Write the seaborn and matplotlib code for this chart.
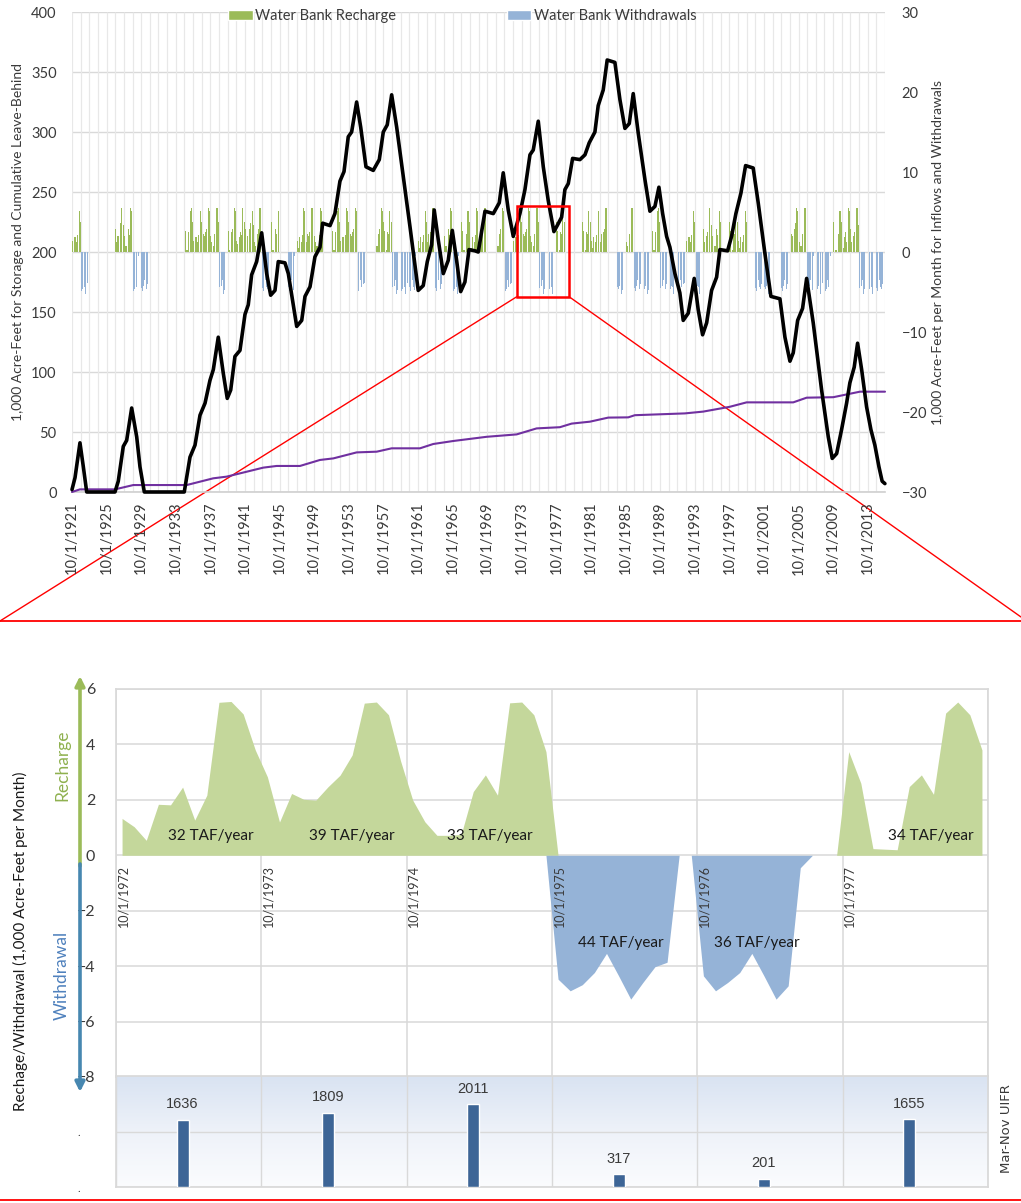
import numpy as np
import matplotlib
matplotlib.use("Agg")
import matplotlib.pyplot as plt
import seaborn as sns
from matplotlib.patches import Rectangle, Patch, ConnectionPatch
from matplotlib.lines import Line2D
from matplotlib.colors import LinearSegmentedColormap

# ---------------- data ----------------
# Water bank storage (1,000 AF), decimal year vs value
storage_t = [1921.75, 1922.10, 1922.67, 1923.06, 1923.45, 1926.72, 1927.10, 1927.68, 1928.07, 1928.65,
             1929.23, 1929.61, 1930.11, 1934.73, 1935.39, 1935.97, 1936.55, 1937.13, 1937.70, 1938.09,
             1938.66, 1939.24, 1939.70, 1940.10, 1940.59, 1941.17, 1941.75, 1942.13, 1942.52, 1943.10,
             1943.68, 1944.26, 1944.72, 1945.22, 1945.60, 1946.37, 1946.76, 1947.73, 1948.31, 1948.69,
             1949.27, 1949.84, 1950.42, 1950.73, 1951.58, 1952.15, 1952.73, 1953.20, 1953.69, 1954.08,
             1954.66, 1955.13, 1955.74, 1956.58, 1957.28, 1957.74, 1958.20, 1958.71, 1959.29, 1960.05,
             1960.83, 1961.78, 1962.36, 1962.83, 1963.33, 1963.63, 1964.10, 1964.68, 1965.25, 1965.72,
             1966.22, 1966.69, 1967.18, 1967.65, 1968.34, 1968.72, 1969.50, 1970.46, 1971.15, 1971.61,
             1972.19, 1972.77, 1973.54, 1974.12, 1974.70, 1975.08, 1975.66, 1976.24, 1976.81, 1977.47,
             1977.85, 1978.36, 1978.74, 1979.13, 1979.63, 1980.48, 1981.06, 1981.55, 1982.21, 1982.59,
             1983.17, 1983.63, 1984.52, 1985.10, 1985.68, 1986.18, 1986.64, 1987.22, 1988.00, 1988.57,
             1989.15, 1989.61, 1990.04, 1990.50, 1990.88, 1991.46, 1992.03, 1992.42, 1993.00, 1993.69,
             1994.15, 1994.66, 1995.13, 1995.70, 1996.28, 1996.66, 1997.55, 1998.01, 1998.51, 1999.09,
             1999.63, 2000.51, 2001.09, 2001.86, 2002.56, 2003.60, 2004.18, 2004.76, 2005.14, 2005.65,
             2006.22, 2006.69, 2007.45, 2008.42, 2009.19, 2009.65, 2010.16, 2010.73, 2011.31, 2011.69,
             2012.19, 2012.58, 2013.05, 2013.62, 2014.12, 2014.58, 2015.05, 2015.42, 2015.74]
storage_v = [2, 12, 41, 21, 0, 0, 9, 38, 43, 70,
             46, 21, 0, 0, 29, 39, 64, 74, 93, 102,
             129, 99, 78, 85, 113, 118, 148, 156, 181, 192,
             216, 182, 164, 168, 192, 191, 182, 138, 143, 163,
             171, 196, 204, 224, 222, 232, 259, 267, 296, 300,
             325, 304, 271, 268, 277, 300, 306, 331, 304, 263,
             221, 168, 172, 192, 206, 235, 210, 182, 193, 218,
             193, 167, 175, 202, 201, 200, 234, 232, 241, 266,
             235, 213, 232, 252, 281, 285, 309, 271, 243, 217,
             222, 229, 252, 257, 278, 277, 281, 291, 300, 322,
             335, 360, 358, 327, 303, 307, 332, 299, 260, 234,
             238, 254, 232, 213, 204, 182, 166, 143, 149, 178,
             152, 131, 141, 168, 179, 202, 201, 213, 232, 249,
             272, 270, 241, 199, 163, 161, 129, 109, 116, 143,
             153, 178, 141, 85, 46, 28, 32, 52, 74, 91,
             104, 124, 102, 71, 52, 39, 21, 9, 7]

# Cumulative leave-behind (1,000 AF)
leave_t = [1921.75, 1922.67, 1926.72, 1928.84, 1935.01, 1938.08, 1939.63, 1943.86, 1945.41, 1948.11,
           1950.42, 1951.96, 1954.66, 1956.98, 1958.71, 1961.98, 1963.52, 1965.83, 1969.69, 1973.16,
           1975.47, 1978.16, 1979.52, 1981.63, 1983.75, 1986.06, 1986.83, 1992.61, 1994.73, 1997.80,
           1999.75, 2005.14, 2006.69, 2009.77, 2012.85, 2015.75]
leave_v = [0, 2.2, 2.2, 5.8, 5.8, 11.4, 12.8, 20.3, 21.7, 21.7,
           26.7, 28, 33, 33.6, 36.4, 36.4, 40, 42.5, 46, 48,
           53, 54, 57, 58.6, 62, 62.2, 64, 65.5, 67, 71,
           74.7, 74.7, 78.6, 79, 83.6, 83.6]

# Water years (starting Oct 1) with bank recharge / withdrawals
recharge_years = [1921, 1926, 1927, 1934, 1935, 1936, 1937, 1939, 1940, 1941, 1942, 1944,
                  1947, 1948, 1949, 1951, 1952, 1953, 1956, 1957, 1961, 1962, 1964, 1966,
                  1967, 1968, 1970, 1972, 1973, 1974, 1977, 1980, 1981, 1982, 1985, 1988,
                  1992, 1994, 1995, 1997, 1998, 2004, 2005, 2009, 2010, 2011]
withdrawal_years = [1922, 1928, 1929, 1938, 1943, 1946, 1954, 1958, 1959, 1960, 1963, 1965,
                    1971, 1975, 1976, 1984, 1986, 1987, 1989, 1990, 1991, 1993, 2000, 2001,
                    2003, 2006, 2007, 2008, 2012, 2013, 2014]

# Monthly recharge / withdrawal, Oct..Sep (1,000 AF per month)
rech_1972 = [1.33, 1.03, 0.54, 1.84, 1.82, 2.46, 1.27, 2.17, 5.52, 5.55, 5.10, 3.80]
rech_1973 = [2.83, 1.20, 2.23, 2.02, 1.99, 2.47, 2.89, 3.62, 5.49, 5.53, 5.07, 3.40]
rech_1974 = [1.99, 1.21, 0.72, 0.72, 0.75, 2.30, 2.90, 2.17, 5.50, 5.53, 5.07, 3.74]
wd_1975 = [4.47, 4.89, 4.67, 4.23, 3.54, 4.35, 5.19, 4.59, 4.02, 3.86, 0.0, 0.0]
wd_1976 = [4.35, 4.89, 4.59, 4.23, 3.54, 4.35, 5.19, 4.71, 0.45, 0.0, 0.0, 0.0]
rech_1977 = [3.74, 2.60, 0.24, 0.22, 0.20, 2.48, 2.90, 2.20, 5.13, 5.53, 5.07, 3.80]

# Mar-Nov unimpaired flow (TAF) for the detail years
detail_years = [1972, 1973, 1974, 1975, 1976, 1977]
uifr = [1636, 1809, 2011, 317, 201, 1655]

# ---------------- style ----------------
sns.set_theme(style="white")
plt.rcParams["font.family"] = ["Lato", "DejaVu Sans"]
TXT = "#3a3a3a"
GRID = "#d9d9d9"
GREEN_BAR = "#9bbb59"
BLUE_BAR = "#95b3d7"
GREEN_AREA = "#c4d79b"
RED = "#ff0000"

W, H = 1021, 1203
fig = plt.figure(figsize=(W / 100, H / 100), dpi=100)


def fx(px):
    return px / W


def fy(py):
    return 1 - py / H


# ---------------- top chart ----------------
ax = fig.add_axes([fx(72), fy(492), (885 - 72) / W, 480 / H])
ax2 = ax.twinx()
ax.set_zorder(ax2.get_zorder() + 1)
ax.patch.set_visible(False)
ax2.patch.set_visible(True)
ax2.patch.set_facecolor("white")

x0, x1 = 1921.75, 2015.75
# light grid behind everything (left-axis steps of 50 expressed on right axis)
for v in np.arange(0, 401, 50):
    ax2.axhline((v - 200) * 0.15, color=GRID if v else "#cfcfcf", lw=1.0, zorder=0)
ax2.vlines(np.arange(x0, x1 + 0.01, 1.0), -30, 30, color="#e8e8e8", lw=0.9, zorder=0)

# monthly bank flows
inset_rech = {1972: rech_1972, 1973: rech_1973, 1974: rech_1974, 1977: rech_1977}
inset_wd = {1975: wd_1975, 1976: wd_1976}
rech_cycle = [rech_1972, rech_1973, rech_1974, rech_1977]
wd_cycle = [wd_1975, wd_1976]
t_month, rech_m, wd_m = [], [], []
kr = kw = 0
for y in range(1921, 2015):
    r = [0.0] * 12
    w = [0.0] * 12
    if y in recharge_years:
        r = inset_rech.get(y, rech_cycle[kr % 4])
        kr += 1
    if y in withdrawal_years:
        w = inset_wd.get(y, wd_cycle[kw % 2])
        kw += 1
    for m in range(12):
        t_month.append(y + 0.75 + (m + 0.5) / 12)
        rech_m.append(r[m])
        wd_m.append(-w[m])
t_month = np.array(t_month)
ax2.bar(t_month, rech_m, width=0.75 / 12, color=GREEN_BAR, linewidth=0, zorder=2)
ax2.bar(t_month, wd_m, width=0.75 / 12, color=BLUE_BAR, linewidth=0, zorder=2)

sns.lineplot(x=leave_t, y=leave_v, ax=ax, color="#7030a0", linewidth=1.5, zorder=4)
sns.lineplot(x=storage_t, y=storage_v, ax=ax, color="black", linewidth=2.6, zorder=5)
for ln in ax.lines:
    ln.set_clip_on(False)

ax.set_xlim(x0, x1)
ax.set_ylim(0, 400)
ax2.set_ylim(-30, 30)
ax.set_yticks(np.arange(0, 401, 50))
ax2.set_yticks(np.arange(-30, 31, 10))
xt = [x0 + 4 * k for k in range(24)]
ax.set_xticks(xt)
ax.set_xticklabels([f"10/1/{1921 + 4 * k}" for k in range(24)], rotation=90)
ax.set_xlabel("")
ax.set_ylabel("")
for a in (ax, ax2):
    for s in a.spines.values():
        s.set_visible(False)
ax.spines["bottom"].set_visible(True)
ax.spines["bottom"].set_color("#cfcfcf")
ax.spines["bottom"].set_linewidth(1.2)
ax.tick_params(axis="x", length=4, color="#cfcfcf", pad=3, labelsize=10.5, labelcolor=TXT)
ax.tick_params(axis="y", length=0, pad=11, labelsize=10.5, labelcolor=TXT)
ax2.tick_params(axis="y", length=0, pad=12, labelsize=10.5, labelcolor=TXT)

fig.text(fx(18), fy(242), "1,000 Acre-Feet for Storage and Cumulative Leave-Behind",
         rotation=90, ha="center", va="center", fontsize=10, color=TXT)
fig.text(fx(938), fy(252), "1,000 Acre-Feet per Month for Inflows and Withdrawals",
         rotation=90, ha="center", va="center", fontsize=10, color=TXT)

handles = [Patch(facecolor=GREEN_BAR, label="Water Bank Recharge"),
           Patch(facecolor=BLUE_BAR, label="Water Bank Withdrawals")]
fig.legend(handles=handles, loc="upper center", bbox_to_anchor=(fx(462), fy(3)), ncol=2,
           frameon=False, fontsize=10.5, handlelength=1.7, handleheight=0.65,
           handletextpad=0.15, columnspacing=7.6, borderaxespad=0, labelcolor=TXT)

# ---------------- detail chart ----------------
ax3 = fig.add_axes([fx(116), fy(1077), 872 / W, 388 / H])
months = np.arange(72) + 0.5
detail_rech = rech_1972 + rech_1973 + rech_1974 + [0.0] * 24 + rech_1977
detail_wd = [0.0] * 36 + wd_1975 + wd_1976 + [0.0] * 12
ax3.fill_between(months, 0, detail_rech, color=GREEN_AREA, linewidth=0, zorder=2)
ax3.fill_between(months, 0, -np.array(detail_wd), color=BLUE_BAR, linewidth=0, zorder=2)
ax3.set_xlim(0, 72)
ax3.set_ylim(-8, 6)
ax3.set_xticks(np.arange(0, 73, 12))
ax3.set_yticks(np.arange(-8, 7, 2))
ax3.set_xticklabels([])
ax3.grid(True, color=GRID, lw=1.1)
ax3.set_axisbelow(True)
for s in ax3.spines.values():
    s.set_color(GRID)
ax3.tick_params(axis="both", length=0)
ax3.tick_params(axis="y", pad=15, labelsize=11.5, labelcolor=TXT)

for i, yr in enumerate(detail_years):
    ax3.text(12 * i + 0.6, -0.35, f"10/1/{yr}", rotation=90, ha="center", va="top",
             fontsize=9, color=TXT, zorder=5)

# annual totals written on the areas
year_sets = [(rech_1972, 7.8, 0.69), (rech_1973, 19.5, 0.69), (rech_1974, 30.9, 0.69),
             (wd_1975, 41.7, -3.18), (wd_1976, 52.9, -3.18), (rech_1977, 67.3, 0.69)]
for vals, mx, my in year_sets:
    ax3.text(mx, my, f"{round(sum(vals))} TAF/year", ha="center", va="center",
             fontsize=11, color="#1a1a1a", zorder=5)

# ---------------- UIFR panel ----------------
ax4 = fig.add_axes([fx(116), fy(1187), 872 / W, 111 / H])
grad = LinearSegmentedColormap.from_list("bg", ["#fbfcfe", "#eef2f9", "#d9e3f2"])
ax4.imshow(np.linspace(0, 1, 256).reshape(-1, 1)[::-1], extent=[0, 1, 0, 1],
           transform=ax4.transAxes, cmap=grad, aspect="auto", zorder=0)
uifr_x = [12 * i + 5.5 for i in range(len(uifr))]
sns.barplot(x=uifr_x, y=uifr, native_scale=True, width=1 / 12, color="#3d6596",
            saturation=1, ax=ax4, zorder=3)
ax4.set_xlim(0, 72)
ax4.set_ylim(0, 2700)
ax4.set_xlabel("")
ax4.set_ylabel("")
ax4.set_xticks(np.arange(0, 73, 12))
ax4.set_xticklabels([])
ax4.set_yticks([0, 1350])
ax4.set_yticklabels([".", "."], fontsize=8, color=TXT)
ax4.tick_params(axis="both", length=0)
ax4.tick_params(axis="y", pad=26)
ax4.grid(True, color=GRID, lw=1.0)
ax4.set_axisbelow(True)
for s in ax4.spines.values():
    s.set_color(GRID)
for xv, v in zip(uifr_x, uifr):
    ax4.annotate(str(v), (xv, v), xytext=(0, 6), textcoords="offset points", ha="center",
                 va="bottom", fontsize=10.5, color=TXT,
                 family=["Liberation Sans Narrow", "Liberation Sans", "DejaVu Sans"])
fig.text(fx(1006), fy(1129), "Mar-Nov UIFR", rotation=90, ha="center", va="center",
         fontsize=9.5, color=TXT, family=["DejaVu Sans"])

fig.text(fx(20), fy(941), "Rechage/Withdrawal (1,000 Acre-Feet per Month)", rotation=90,
         ha="center", va="center", fontsize=11, color="#1a1a1a")
fig.text(fx(62), fy(765), "Recharge", rotation=90, ha="center", va="center",
         fontsize=12.5, color="#8fb14f")
fig.text(fx(62), fy(975), "Withdrawal", rotation=90, ha="center", va="center",
         fontsize=12.5, color="#4f81bd")

# ---------------- overlay decorations ----------------
ov = fig.add_axes([0, 0, 1, 1], zorder=30)
ov.set_xlim(0, W)
ov.set_ylim(H, 0)
ov.axis("off")
ov.annotate("", xy=(80, 676), xytext=(80, 866),
            arrowprops=dict(arrowstyle="-|>", color="#9bbb59", lw=2.6, mutation_scale=14,
                            shrinkA=0, shrinkB=0))
ov.annotate("", xy=(80, 1092), xytext=(80, 864),
            arrowprops=dict(arrowstyle="-|>", color="#4787b0", lw=2.6, mutation_scale=14,
                            shrinkA=0, shrinkB=0))
ov.add_line(Line2D([0, W], [621, 621], color=RED, lw=1.3))
ov.add_line(Line2D([0, W], [1200, 1200], color=RED, lw=1.3))

box_x0, box_x1, box_y0, box_y1 = 1973.16, 1979.24, -5.6, 5.75
ax.add_patch(Rectangle((box_x0, box_y0), box_x1 - box_x0, box_y1 - box_y0,
                       transform=ax2.transData, fill=False, edgecolor=RED, lw=1.8,
                       zorder=10, clip_on=False))
for xa, xb, yb in [(box_x0, 0, 621), (box_x1, W, 617)]:
    cp = ConnectionPatch(xyA=(xa, box_y0), coordsA=ax2.transData, xyB=(xb, yb),
                         coordsB=ov.transData, color=RED, lw=1.0)
    fig.add_artist(cp)

fig.savefig("out.png", dpi=100)
